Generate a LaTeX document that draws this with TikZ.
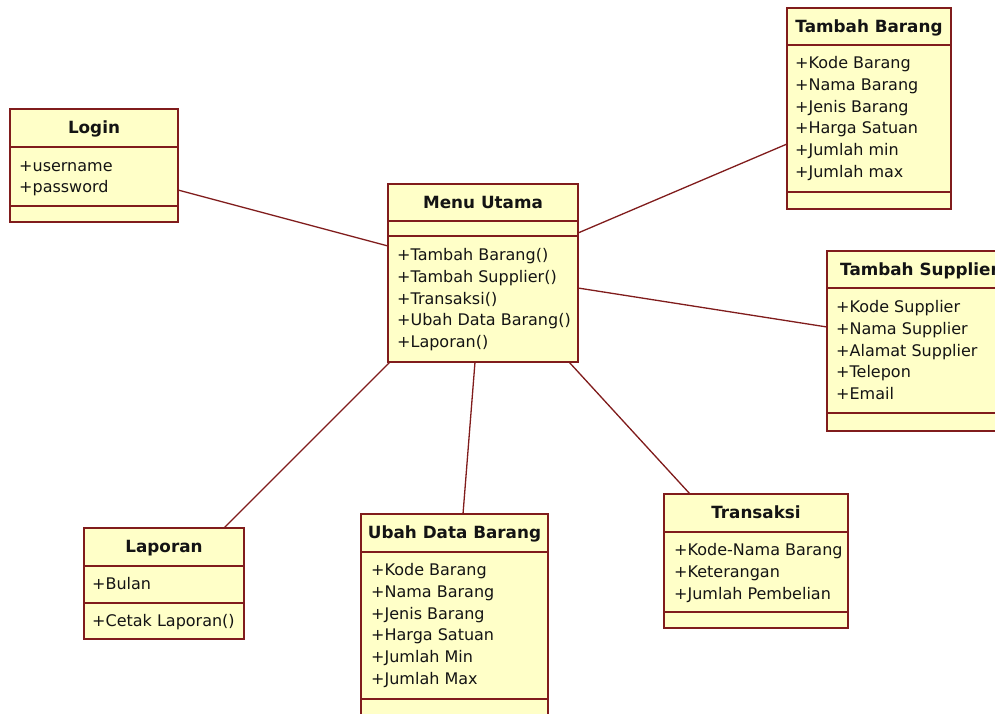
\documentclass[tikz,border=0pt]{standalone}
\usepackage{fontspec}
\setmainfont{DejaVu Sans}
\usetikzlibrary{calc}
\definecolor{umlfill}{RGB}{255,255,200}
\definecolor{umlline}{RGB}{128,28,28}
\definecolor{umltext}{RGB}{20,20,20}
\tikzset{
  clsbox/.style={draw=umlline, fill=umlfill, line width=1.6pt, inner sep=0pt, outer sep=0pt},
  clsline/.style={draw=umlline, line width=1.6pt},
  clstitle/.style={inner sep=0pt, text=umltext, font=\fontsize{16.8}{18}\selectfont\bfseries},
  clsitem/.style={inner sep=0pt, text=umltext, font=\fontsize{16}{18}\selectfont},
  assoc/.style={draw=umlline, line width=1.3pt}
}
\newcommand\umlbox[8]{%
  \node[clsbox, minimum width={(#4-#2)*1pt}, minimum height={(#5-#3)*1pt}, anchor=north west] (#1) at (#2,#3) {};
  \draw[clsline] (#2,#6) -- (#4,#6);
  \draw[clsline] (#2,#7) -- (#4,#7);
  \node[clstitle, anchor=base] (#1-title) at ({(#2+#4)/2},{(#3+#6)/2+5.8}) {#8};
}
\newcommand\umlitems[4]{%
  \foreach \t [count=\i from 0] in {#4} {
    \node[clsitem, anchor=base west] (#1-\i) at (#2,{#3+21.8*\i}) {\t};
  }
}
\begin{document}
\begin{tikzpicture}[x=1pt, y=-1pt]
\useasboundingbox (0,0) rectangle (995,713);
\fill[white] (0,0) rectangle (995,713);
\clip (0,0) rectangle (995,713);

% classes
\umlbox{login}{10}{109}{178}{222}{147}{206}{Login}
\umlitems{login}{19}{171}{+username,+password}

\umlbox{menu}{388}{184}{578}{362}{221}{236}{Menu Utama}
\umlitems{menu}{397}{260.5}{+Tambah Barang(),+Tambah Supplier(),+Transaksi(),+Ubah Data Barang(),+Laporan()}

\umlbox{tbarang}{787}{8}{951}{209}{45}{192}{Tambah Barang}
\umlitems{tbarang}{795}{68.5}{+Kode Barang,+Nama Barang,+Jenis Barang,+Harga Satuan,+Jumlah min,+Jumlah max}

\umlbox{tsupp}{827}{251}{1012}{431}{288}{413}{Tambah Supplier}
\umlitems{tsupp}{836}{312.5}{+Kode Supplier,+Nama Supplier,+Alamat Supplier,+Telepon,+Email}

\umlbox{lap}{84}{528}{244}{639}{566}{603}{Laporan}
\umlitems{lapa}{92}{589.5}{+Bulan}
\umlitems{lapo}{92}{626.5}{+Cetak Laporan()}

\umlbox{ubah}{361}{514}{548}{730}{552}{699}{Ubah Data Barang}
\umlitems{ubah}{371}{575.5}{+Kode Barang,+Nama Barang,+Jenis Barang,+Harga Satuan,+Jumlah Min,+Jumlah Max}

\umlbox{trans}{664}{494}{848}{628}{532}{612}{Transaksi}
\umlitems{trans}{674}{555.5}{+Kode-Nama Barang,+Keterangan,+Jumlah Pembelian}

% connector end points on the class borders
\coordinate (login-r) at (login.east |- 0,190);
\coordinate (menu-l)  at (menu.west |- 0,246);
\coordinate (menu-r1) at (menu.east |- 0,233);
\coordinate (menu-r2) at (menu.east |- 0,288);
\coordinate (menu-b1) at (menu.south -| 390,0);
\coordinate (menu-b2) at (menu.south -| 475,0);
\coordinate (menu-b3) at (menu.south -| 569,0);
\coordinate (tbarang-l) at (tbarang.west |- 0,144);
\coordinate (tsupp-l) at (tsupp.west |- 0,327);
\coordinate (lap-t) at (lap.north -| 224,0);
\coordinate (ubah-t) at (ubah.north -| 463,0);
\coordinate (trans-t) at (trans.north -| 690,0);

\draw[assoc] (login-r) -- (menu-l);
\draw[assoc] (menu-r1) -- (tbarang-l);
\draw[assoc] (menu-r2) -- (tsupp-l);
\draw[assoc] (menu-b1) -- (lap-t);
\draw[assoc] (menu-b2) -- (ubah-t);
\draw[assoc] (menu-b3) -- (trans-t);
\end{tikzpicture}
\end{document}
